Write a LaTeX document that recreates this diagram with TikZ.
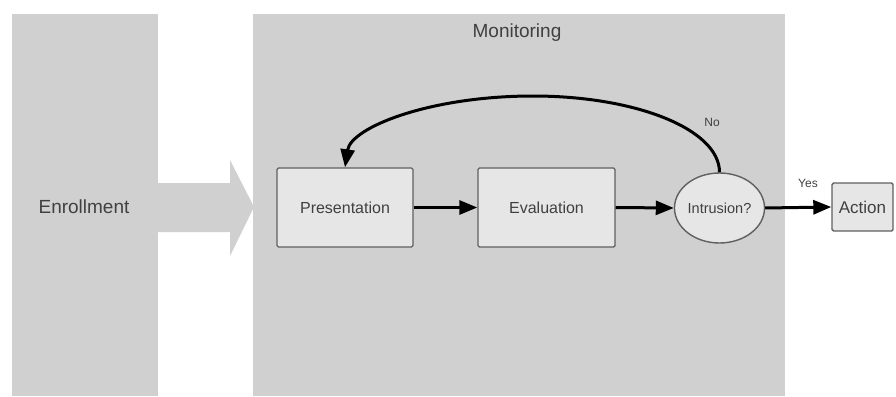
\documentclass[tikz,border=0pt]{standalone}
\usepackage{fontspec}
\setmainfont{Liberation Sans}
\usetikzlibrary{arrows.meta,shapes.geometric}
\definecolor{colbg}{HTML}{D0D0D0}
\definecolor{boxbg}{HTML}{E6E6E6}
\definecolor{boxline}{HTML}{606060}
\definecolor{txt}{HTML}{404040}
\tikzset{
  procbox/.style={draw=boxline, line width=1.4pt, fill=boxbg, rounded corners=1.5pt, inner sep=0pt, text=txt, font=\fontsize{16}{19}\selectfont},
  decis/.style={ellipse, draw=boxline, line width=1.4pt, fill=boxbg, inner sep=0pt, minimum width=83pt, minimum height=70pt, text=txt, font=\fontsize{14.5}{17}\selectfont},
  flow/.style={line width=3pt, -{Triangle[length=18pt,width=14pt]}},
  lbl/.style={text=txt, font=\fontsize{12}{14}\selectfont, inner sep=0pt},
  coltitle/.style={text=txt, font=\fontsize{19}{22}\selectfont, inner sep=0pt}
}
\begin{document}
\begin{tikzpicture}[x=1pt,y=-1pt]
\useasboundingbox (0,0) rectangle (896,396);
% columns
\fill[colbg] (12,14) rectangle (158,396);
\fill[colbg] (253,14) rectangle (785,396);
% big arrow
\fill[colbg] (157,183) -- (230,183) -- (230,160) -- (254,207) -- (230,256) -- (230,232) -- (157,232) -- cycle;
\node[coltitle] (enr) at (84,207) {Enrollment};
\node[coltitle] (mon) at (517,33) {Monitoring};
% process nodes
\node[procbox, minimum width=136pt, minimum height=79pt] (pres) at (345,207.5) {Presentation};
\node[procbox, minimum width=137pt, minimum height=79pt] (eval) at (546.5,207.5) {Evaluation};
\node[decis] (intr) at (719.5,208) {Intrusion?};
\node[procbox, minimum width=61pt, minimum height=48pt, font=\fontsize{17}{20}\selectfont] (act) at (862.5,207) {Action};
% connectors
\draw[flow] (pres.east) -- (eval.west);
\draw[flow] (eval.east) -- (intr.west);
\draw[flow] (intr.east) -- (act.west);
\coordinate (top) at (533,96);
\draw[flow] (intr.north) .. controls +(0,-43) and +(103,0) .. (top)
  .. controls +(-103,0) and +(6,-40) .. (pres.north);
\node[lbl] (no) at (712,122) {No};
\node[lbl] (yes) at (808,183) {Yes};
\end{tikzpicture}
\end{document}
